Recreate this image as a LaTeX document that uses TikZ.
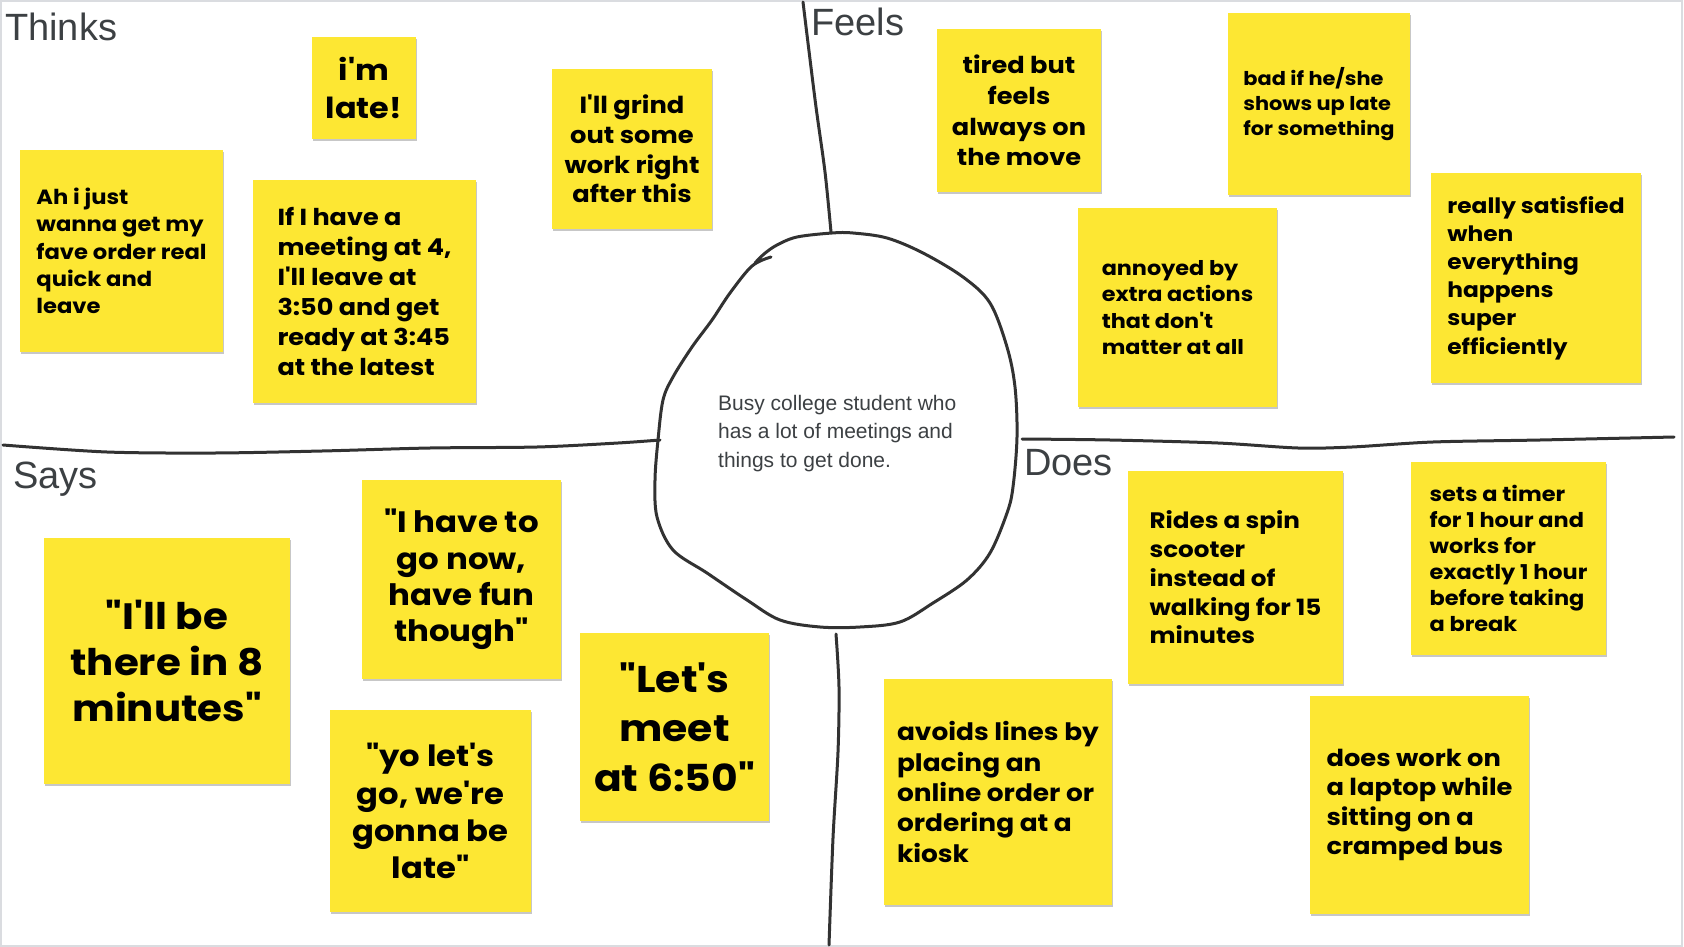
\documentclass[tikz,border=0pt]{standalone}
\usepackage{fontspec}
\setmainfont{Liberation Sans}
\newfontfamily\notefont{Poppins}[FakeStretch=1.1]
\definecolor{stickyyellow}{RGB}{253,231,51}
\definecolor{inkgray}{RGB}{50,50,50}
\definecolor{labelgray}{RGB}{60,64,67}
\definecolor{framegray}{RGB}{218,220,224}

\begin{document}
\begin{tikzpicture}[x=1pt,y=-1pt,
    note/.style={fill=stickyyellow, inner sep=0pt, text=black,
      preaction={fill=black!22, transform canvas={xshift=0.6pt,yshift=-1.6pt}}},
    fs/.style 2 args={font=\notefont\bfseries\fontsize{#1}{#2}\selectfont},
    sketch/.style={draw=inkgray, line width=3pt, line cap=round, line join=round},
    quadlabel/.style={anchor=base west, inner sep=0pt, text=labelgray,
      font=\fontsize{38}{38}\selectfont}]
  \useasboundingbox (0,0) rectangle (1684,947);
  \draw[framegray, line width=2pt] (1,1) rectangle (1682,946);

  % quadrant lines and persona blob
  \draw[sketch] plot[smooth] coordinates {(803,2) (808,43) (816,107) (825,172) (831,232)};
  \draw[sketch] plot[smooth] coordinates {(836,634) (839,687) (838,752) (833,838) (829,945)};
  \draw[sketch] plot[smooth] coordinates {(3,445) (107,452) (215,453) (322,451) (430,448)
    (537,447) (618,443) (660,440)};
  \draw[sketch] plot[smooth] coordinates {(1022,439) (1110,440) (1218,443) (1298,448)
    (1352,447) (1433,442) (1540,440) (1674,437)};
  \draw[sketch] plot[smooth, tension=0.55] coordinates {(771,257) (752,266) (730,293) (712,320)
    (692,347) (673,377) (663,400) (658,440) (655,480) (657,517) (673,550) (707,573)
    (747,600) (780,620) (820,627) (860,627) (900,622) (933,603) (967,580) (990,553)
    (1007,513) (1013,487) (1017,437) (1015,387) (1007,347) (990,303) (963,277) (923,253)
    (887,238) (853,233) (832,233) (797,237) (777,245) (764,254) (755,263)};

  \node[anchor=west, inner sep=0pt, align=left, text=labelgray,
    font=\fontsize{21}{28.5}\selectfont] (persona) at (718,433.2)
    {Busy college student who\\has a lot of meetings and\\things to get done.};

  \node[quadlabel] (thinks) at (5,41) {Thinks};
  \node[quadlabel] (feels) at (811,36) {Feels};
  \node[quadlabel] (says) at (13,488) {Says};
  \node[quadlabel] (does) at (1024,475) {Does};

  % Thinks
  \node[note, fs={29}{37.5}, align=center, minimum width=104pt, minimum height=102pt]
    (imlate) at (364,88) {i'm\\late!};
  \node[note, fs={20.6}{27.4}, align=left, minimum width=203pt, minimum height=202pt]
    (ahjust) at (121.5,251) {Ah i just\\wanna get my\\fave order real\\quick and\\leave};
  \node[note, fs={23.2}{29.9}, align=left, minimum width=223pt, minimum height=223pt]
    (meeting) at (364.5,291.5) {If I have a\\meeting at 4,\\I'll leave at\\3:50 and get\\ready at 3:45\\at the latest};
  \node[note, fs={23.4}{29.7}, align=center, minimum width=160pt, minimum height=160pt]
    (grind) at (632,149) {I'll grind\\out some\\work right\\after this};

  % Feels
  \node[note, fs={23.3}{30.8}, align=center, minimum width=164pt, minimum height=163pt]
    (tired) at (1019,110.5) {tired but\\feels\\always on\\the move};
  \node[note, fs={19}{24.7}, align=left, minimum width=182pt, minimum height=182pt]
    (badif) at (1319,104) {bad if he/she\\shows up late\\for something};
  \node[note, fs={20.3}{26.5}, align=left, minimum width=199pt, minimum height=199pt]
    (annoyed) at (1177.5,307.5) {annoyed by\\extra actions\\that don't\\matter at all};
  \node[note, fs={21.2}{28.2}, align=left, minimum width=210pt, minimum height=210pt]
    (satisfied) at (1536,278) {really satisfied\\when\\everything\\happens\\super\\efficiently};

  % Says
  \node[note, fs={36.7}{46}, align=center, minimum width=246pt, minimum height=246pt]
    (bethere) at (167,661) {"I'll be\\there in 8\\minutes"};
  \node[note, fs={29.5}{36.5}, align=center, minimum width=199pt, minimum height=199pt]
    (havetogo) at (461.5,579.5) {"I have to\\go now,\\have fun\\though"};
  \node[note, fs={29.3}{37.2}, align=center, minimum width=201pt, minimum height=202pt]
    (yolets) at (430.5,811) {"yo let's\\go, we're\\gonna be\\late"};
  \node[note, fs={37.2}{49.4}, align=center, minimum width=189pt, minimum height=188pt]
    (letsmeet) at (674.5,727) {"Let's\\meet\\at 6:50"};

  % Does
  \node[note, fs={22.4}{28.7}, align=left, minimum width=215pt, minimum height=213pt]
    (scooter) at (1235.5,577.5) {Rides a spin\\scooter\\instead of\\walking for 15\\minutes};
  \node[note, fs={20.4}{26}, align=left, minimum width=195pt, minimum height=193pt]
    (timer) at (1508.5,558.5) {sets a timer\\for 1 hour and\\works for\\exactly 1 hour\\before taking\\a break};
  \node[note, fs={24}{30.3}, align=left, minimum width=228pt, minimum height=226pt]
    (kiosk) at (998,792) {avoids lines by\\placing an\\online order or\\ordering at a\\kiosk};
  \node[note, fs={23.4}{29.3}, align=left, minimum width=219pt, minimum height=218pt]
    (laptop) at (1419.5,805) {does work on\\a laptop while\\sitting on a\\cramped bus};
\end{tikzpicture}
\end{document}
